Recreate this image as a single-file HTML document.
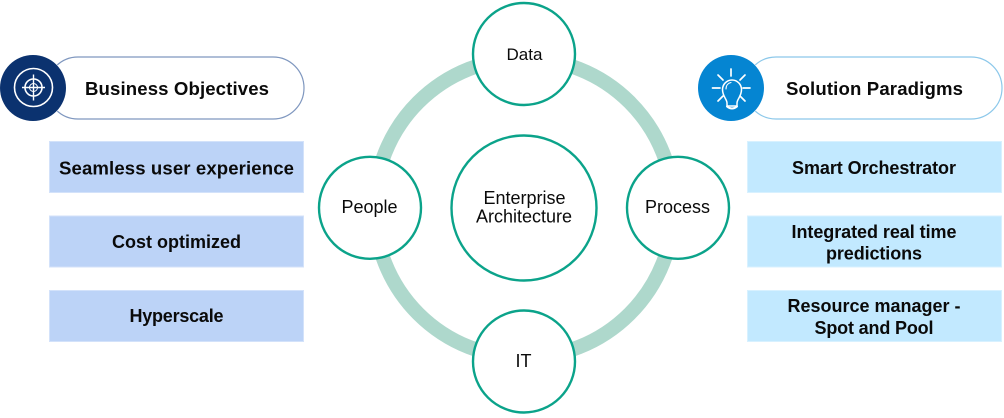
<!DOCTYPE html>
<html>
<head>
<meta charset="utf-8">
<style>
html,body{margin:0;padding:0;background:#fff}
svg{display:block}
text{font-family:"Liberation Sans",Arial,sans-serif;fill:#0a0a0a;text-anchor:middle}
.b{font-weight:bold;font-size:18px}
.h{font-weight:bold;font-size:18.6px}
.r{font-size:18px}
</style>
</head>
<body>
<svg width="1004" height="418" viewBox="0 0 1004 418" xmlns="http://www.w3.org/2000/svg">
<rect width="1004" height="418" fill="#fff"/>

<!-- ring -->
<circle cx="524" cy="208" r="149.500" fill="none" stroke="#aed8cc" stroke-width="14.500"/>

<!-- satellite nodes -->
<g fill="#fff" stroke="#0ba38a" stroke-width="2.4">
<circle cx="524" cy="54" r="51"/>
<circle cx="524" cy="361.5" r="51"/>
<circle cx="370" cy="207.8" r="51"/>
<circle cx="678" cy="207.8" r="51"/>
<circle cx="524" cy="208" r="72.5"/>
</g>
<text x="524.5" y="60" style="font-size:17px">Data</text>
<text class="r" x="523.5" y="367">IT</text>
<text class="r" x="369.5" y="213">People</text>
<text class="r" x="677.5" y="213">Process</text>
<text class="r" x="524.5" y="204">Enterprise</text>
<text class="r" x="524" y="222.5">Architecture</text>

<!-- left header -->
<rect x="47" y="57" width="257" height="62" rx="31" fill="#fff" stroke="#7f97bf" stroke-width="1.2"/>
<circle cx="33" cy="88" r="33.5" fill="#fff"/>
<circle cx="33" cy="88" r="33" fill="#0b326f"/>
<g fill="none" stroke="#fff">
<circle cx="33.500" cy="87.500" r="19" stroke-width="1.6"/>
<circle cx="33.500" cy="87.500" r="8.500" stroke-width="1.6"/>
<circle cx="33.500" cy="87.500" r="4" stroke-width="1"/>
<path d="M33.500 74.500V100.500M22 87.500H45" stroke-width="1.400"/>
</g>
<text class="h" x="177" y="95" textLength="184">Business Objectives</text>

<!-- right header -->
<rect x="745" y="57" width="257" height="62" rx="31" fill="#fff" stroke="#8cc8ea" stroke-width="1.2"/>
<circle cx="731" cy="88" r="33.5" fill="#fff"/>
<circle cx="731" cy="88" r="33" fill="#0585d2"/>
<g fill="none" stroke="#fff" stroke-width="1.700" stroke-linecap="round">
<path d="M727 106V103C727 99 722.500 96.500 722.500 89.500A9.500 9.500 0 1 1 741.500 89.500C741.500 96.500 737 99 737 103V106Z" stroke-width="1.500"/>
<path d="M727 106.500Q732 110.500 737 106.500" stroke-width="2"/>
<path d="M726 89C726 85 728.500 83 731 82.500" stroke-width="1.100"/>
<path d="M731 69V76M718 75L723 80M745 75L740 80M712.500 88H720M750 88H743M718 101L723 96M745 101L740 96"/>
</g>
<text class="h" x="874.500" y="95" textLength="177">Solution Paradigms</text>

<!-- left boxes -->
<g fill="#bcd3f7" stroke="#d3e2fa" stroke-width="1">
<rect x="49.500" y="141.500" width="254" height="51"/>
<rect x="49.500" y="216" width="254" height="51"/>
<rect x="49.500" y="290.500" width="254" height="51"/>
</g>
<text class="h" x="176.500" y="174.500" textLength="235">Seamless user experience</text>
<text class="b" x="176.500" y="248" textLength="129">Cost optimized</text>
<text class="b" x="176.500" y="322" textLength="94">Hyperscale</text>

<!-- right boxes -->
<g fill="#c2e9ff" stroke="#d8f1ff" stroke-width="1">
<rect x="747.500" y="141.500" width="254" height="51"/>
<rect x="747.500" y="216" width="254" height="51"/>
<rect x="747.500" y="290.500" width="254" height="51"/>
</g>
<text class="b" x="874" y="174" textLength="164">Smart Orchestrator</text>
<text class="b" x="874" y="238" textLength="165">Integrated real time</text>
<text class="b" x="874" y="259.500" textLength="96">predictions</text>
<text class="b" x="874" y="312" textLength="173">Resource manager -</text>
<text class="b" x="874" y="334" textLength="119">Spot and Pool</text>
</svg>
</body>
</html>
